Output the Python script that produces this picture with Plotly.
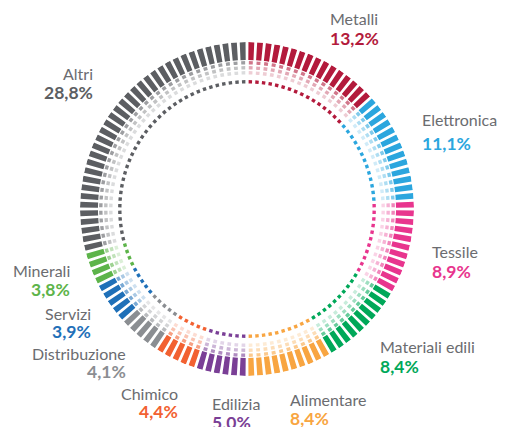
import plotly.graph_objects as go

# ---- data ----
categories = ["Metalli", "Elettronica", "Tessile", "Materiali edili", "Alimentare",
              "Edilizia", "Chimico", "Distribuzione", "Servizi", "Minerali", "Altri"]
shares = [13.2, 11.1, 8.9, 8.4, 8.4, 5.0, 4.4, 4.1, 3.9, 3.8, 28.8]
share_labels = ["13,2%", "11,1%", "8,9%", "8,4%", "8,4%", "5,0%", "4,4%", "4,1%", "3,9%", "3,8%", "28,8%"]
colors = ["#B31A3C", "#2BA6DE", "#E8358E", "#00A859", "#F8A541", "#7A3F96",
          "#F26131", "#8B8E92", "#1F70B8", "#5DB44A", "#5C5E62"]

N_TICKS = 120
STEP = 360.0 / N_TICKS


def hex_rgba(h, a):
    h = h.lstrip("#")
    r, g, b = int(h[0:2], 16), int(h[2:4], 16), int(h[4:6], 16)
    return f"rgba({r},{g},{b},{a})"


# assign each tick to a category by cumulative share
cum = []
s = 0
for v in shares:
    s += v
    cum.append(s)

thetas, tick_cat = [], []
for i in range(N_TICKS):
    frac = (i + 0.5) / N_TICKS * 100
    k = next(j for j, c in enumerate(cum) if frac < c or j == len(cum) - 1)
    thetas.append((i + 0.5) * STEP)
    tick_cat.append(k)

fig = go.Figure()

# rings: (base radius, length, angular width, alpha)
rings = [
    (149, 18, 2.0, 1.0),
    (144.5, 3.4, 1.55, 0.6),
    (139.5, 3.4, 1.55, 0.38),
    (134.5, 3.4, 1.55, 0.22),
    (125.5, 3.4, 1.55, 1.0),
]
for base, length, w, a in rings:
    fig.add_trace(go.Barpolar(
        theta=thetas,
        r=[length] * N_TICKS,
        base=[base] * N_TICKS,
        width=[w] * N_TICKS,
        marker=dict(color=[hex_rgba(colors[k], a) for k in tick_cat], line=dict(width=0)),
        hoverinfo="skip",
        showlegend=False,
    ))

W, H = 505, 427
cx, cy, R = 247, 209, 167

fig.update_layout(
    width=W, height=H,
    margin=dict(l=0, r=0, t=0, b=0),
    paper_bgcolor="white",
    plot_bgcolor="white",
    polar=dict(
        domain=dict(x=[(cx - R) / W, (cx + R) / W], y=[1 - (cy + R) / H, 1 - (cy - R) / H]),
        bgcolor="white",
        radialaxis=dict(visible=False, range=[0, R]),
        angularaxis=dict(visible=False, rotation=90, direction="clockwise"),
    ),
)

# label positions (pixels): name anchor x, align, name y, pct y
label_pos = {
    "Metalli": (328, "left", 18, 38.5),
    "Elettronica": (420, "left", 120, 144),
    "Tessile": (430, "left", 251, 271),
    "Materiali edili": (378, "left", 346, 366),
    "Alimentare": (288, "left", 399, 418),
    "Edilizia": (210, "left", 403, 422),
    "Chimico": (180, "right", 393, 411),
    "Distribuzione": (128, "right", 353, 371),
    "Servizi": (93, "right", 313, 331),
    "Minerali": (72, "right", 270, 289),
    "Altri": (95, "right", 74, 92),
}

FONT = "Lato"
for k, name in enumerate(categories):
    x, al, yn, yp = label_pos[name]
    fig.add_annotation(x=x / W, y=1 - yn / H, xref="paper", yref="paper",
                       text=name, showarrow=False, xanchor=al, yanchor="middle",
                       font=dict(family=FONT, size=16, color="#6B6C70"))
    fig.add_annotation(x=x / W, y=1 - yp / H, xref="paper", yref="paper",
                       text=f"<b>{share_labels[k]}</b>", showarrow=False, xanchor=al, yanchor="middle",
                       font=dict(family=FONT, size=17.5, color=colors[k]))

fig.write_html("out.html", config={"displayModeBar": False},
               post_script="document.body.style.margin='0';")
